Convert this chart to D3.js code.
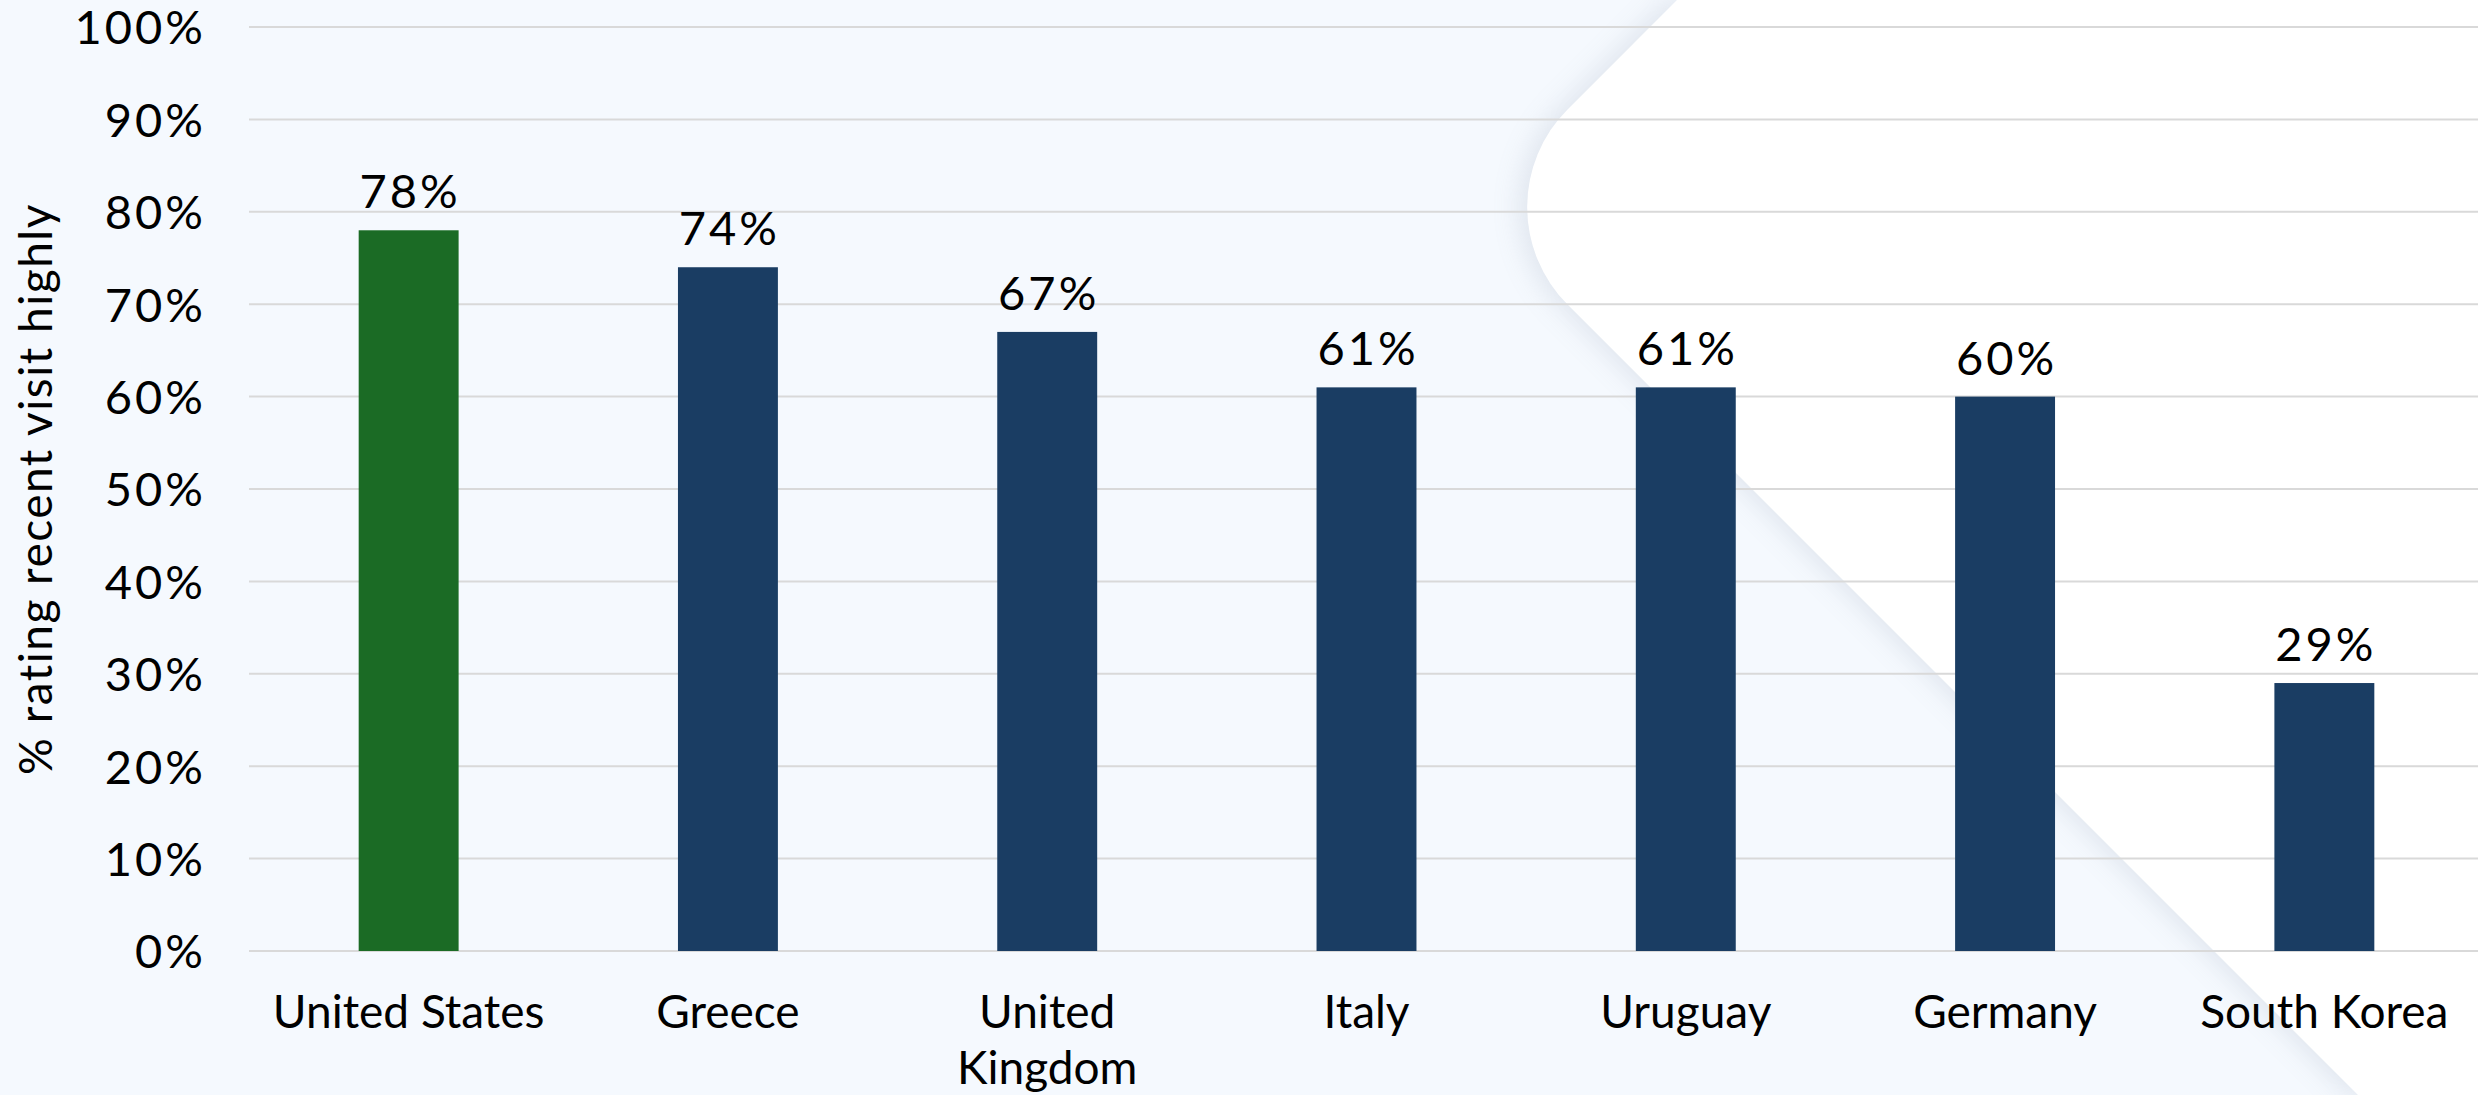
<!DOCTYPE html>
<html>
<head>
<meta charset="utf-8">
<script src="https://cdn.jsdelivr.net/npm/d3@7"></script>
<style>
  html, body { margin: 0; padding: 0; background: #f5f9fe; }
  svg { display: block; }
  text { font-family: "Century Gothic", "Futura", "Lato", "Open Sans", sans-serif; fill: #000; }
</style>
</head>
<body>
<svg id="chart" width="2478" height="1095"></svg>
<script>
// Survey results: share of visitors rating their recent visit highly
const countries = ["United States", "Greece", "United Kingdom", "Italy", "Uruguay", "Germany", "South Korea"];
const countryLines = [["United States"], ["Greece"], ["United", "Kingdom"], ["Italy"], ["Uruguay"], ["Germany"], ["South Korea"]];
const ratings = [0.78, 0.74, 0.67, 0.61, 0.61, 0.60, 0.29];
const highlighted = ["United States"];
const yTicks = [0, 0.1, 0.2, 0.3, 0.4, 0.5, 0.6, 0.7, 0.8, 0.9, 1.0];
const yTitle = "% rating recent visit highly";

const W = 2478, H = 1095;
const svg = d3.select("#chart");
const pct = d3.format(".0%");

// ---- decorative background panel ----
const defs = svg.append("defs");
defs.append("filter").attr("id", "soft").attr("x", "-20%").attr("y", "-20%").attr("width", "140%").attr("height", "140%")
  .append("feGaussianBlur").attr("stdDeviation", 14);

svg.append("rect").attr("width", W).attr("height", H).attr("fill", "#f5f9fe");

// white panel on the right: two 45° edges meeting at a rounded corner
const vx = 1470, vy = 207, r = 138, k = r / Math.SQRT2;
const panel = d3.path();
panel.moveTo(vx + vy, 0);
panel.lineTo(vx + k, vy - k);
panel.arcTo(vx, vy, vx + k, vy + k, r);
panel.lineTo(vx + (H - vy), H);
panel.lineTo(W, H);
panel.lineTo(W, 0);
panel.closePath();

svg.append("path").attr("d", panel.toString())
  .attr("fill", "#8c9ab0").attr("opacity", 0.22)
  .attr("transform", "translate(-7,0)")
  .attr("filter", "url(#soft)");
svg.append("path").attr("d", panel.toString()).attr("fill", "#ffffff");

// ---- scales ----
const x = d3.scaleBand()
  .domain(countries)
  .range([249, 2484])
  .paddingInner(0.687)
  .paddingOuter(0.3435);

const y = d3.scaleLinear().domain([0, 1]).range([951, 27]);

// ---- gridlines ----
svg.append("g")
  .selectAll("line")
  .data(yTicks)
  .join("line")
  .attr("x1", 249).attr("x2", W)
  .attr("y1", d => y(d)).attr("y2", d => y(d))
  .attr("stroke", "#d9d9d9").attr("stroke-width", 2);

// ---- y axis labels ----
const yAxis = svg.append("g")
  .attr("transform", "translate(206,0)")
  .call(d3.axisLeft(y).tickValues(yTicks).tickFormat(pct).tickSize(0).tickPadding(0));
yAxis.select(".domain").remove();
yAxis.selectAll("text")
  .attr("font-size", 47)
  .attr("fill", "#000")
  .attr("dy", "0.36em")
  .style("letter-spacing", "3px")
  .style("font-family", "\"Century Gothic\", \"Futura\", \"Lato\", sans-serif");

// ---- bars ----
const data = countries.map((c, i) => ({ country: c, value: ratings[i], lines: countryLines[i] }));

svg.append("g")
  .selectAll("rect")
  .data(data)
  .join("rect")
  .attr("x", d => x(d.country))
  .attr("width", x.bandwidth())
  .attr("y", d => y(d.value))
  .attr("height", d => y(0) - y(d.value))
  .attr("fill", d => highlighted.includes(d.country) ? "#1b6b25" : "#1a3d63");

// ---- value labels ----
svg.append("g")
  .selectAll("text")
  .data(data)
  .join("text")
  .attr("x", d => x(d.country) + x.bandwidth() / 2 + 1.5)
  .attr("y", d => y(d.value) - 22)
  .attr("text-anchor", "middle")
  .attr("font-size", 47)
  .style("letter-spacing", "3px")
  .text(d => pct(d.value));

// ---- category labels ----
const cat = svg.append("g")
  .selectAll("text")
  .data(data)
  .join("text")
  .attr("x", d => x(d.country) + x.bandwidth() / 2)
  .attr("y", 1028)
  .attr("text-anchor", "middle")
  .attr("font-size", 46);
cat.selectAll("tspan")
  .data(d => d.lines.map(l => ({ l, x: x(d.country) + x.bandwidth() / 2 })))
  .join("tspan")
  .attr("x", t => t.x)
  .attr("dy", (t, i) => i === 0 ? 0 : 56)
  .text(t => t.l);

// ---- y axis title ----
svg.append("text")
  .attr("transform", `translate(52,${(y(0) + y(1)) / 2}) rotate(-90)`)
  .attr("text-anchor", "middle")
  .attr("font-size", 46)
  .style("letter-spacing", "1.5px")
  .text(yTitle);
</script>
</body>
</html>
